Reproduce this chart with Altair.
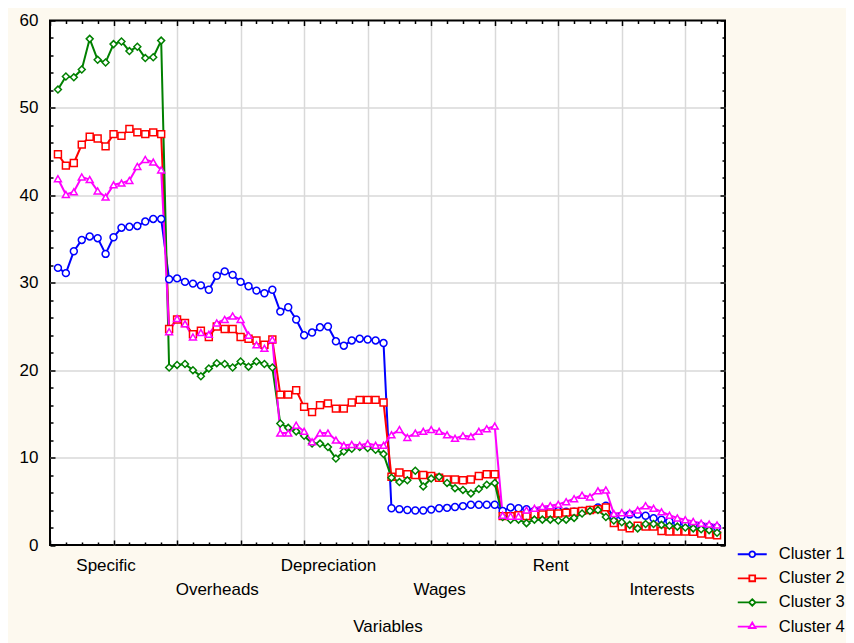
import altair as alt
import pandas as pd

FONT = "Liberation Sans"

variables = ["Specific", "Overheads", "Depreciation", "Wages", "Rent", "Interests"]
clusters = ["Cluster 1", "Cluster 2", "Cluster 3", "Cluster 4"]
colors = ["#0000FF", "#FF0000", "#008000", "#FF00FF"]
shapes = ["circle", "square", "diamond", "triangle-up"]
points_per_variable = 14

cluster1 = [
    31.7, 31.1, 33.6, 34.9, 35.3, 35.1, 33.3, 35.2, 36.3, 36.4, 36.5, 37.0, 37.3, 37.3,
    30.4, 30.5, 30.1, 29.9, 29.7, 29.2, 30.8, 31.3, 30.9, 30.1, 29.6, 29.1, 28.8, 29.2,
    26.7, 27.2, 25.8, 24.0, 24.3, 24.9, 25.0, 23.3, 22.8, 23.4, 23.6, 23.5, 23.4, 23.1,
    4.2, 4.1, 4.0, 3.95, 3.95, 4.05, 4.2, 4.25, 4.35, 4.45, 4.6, 4.6, 4.6, 4.6,
    3.9, 4.3, 4.2, 4.1, 3.9, 4.0, 4.1, 3.9, 3.8, 3.8, 3.9, 4.0, 4.3, 4.5,
    3.2, 3.35, 3.5, 3.5, 3.35, 3.05, 2.9, 2.7, 2.5, 2.4, 2.3, 2.2, 2.1, 2.0,
]
cluster2 = [
    44.7, 43.4, 43.7, 45.8, 46.7, 46.5, 45.6, 47.0, 46.8, 47.6, 47.2, 47.0, 47.2, 47.0,
    24.7, 25.8, 25.4, 24.1, 24.5, 23.8, 25.0, 24.7, 24.7, 23.8, 23.6, 23.4, 22.9, 23.5,
    17.2, 17.2, 17.7, 15.8, 15.2, 16.0, 16.2, 15.6, 15.6, 16.3, 16.6, 16.6, 16.6, 16.3,
    7.8, 8.3, 8.1, 8.0, 8.0, 7.9, 7.7, 7.5, 7.5, 7.4, 7.5, 7.9, 8.1, 8.1,
    3.3, 3.3, 3.4, 3.3, 3.5, 3.5, 3.6, 3.6, 3.7, 3.8, 3.9, 4.0, 4.1, 4.3,
    2.5, 2.1, 1.9, 2.2, 2.1, 2.1, 1.6, 1.55, 1.55, 1.55, 1.5, 1.3, 1.2, 1.1,
]
cluster3 = [
    52.1, 53.6, 53.5, 54.4, 57.9, 55.5, 55.2, 57.3, 57.6, 56.5, 57.0, 55.7, 55.8, 57.7,
    20.3, 20.6, 20.7, 20.0, 19.3, 20.2, 20.8, 20.7, 20.3, 21.0, 20.4, 21.0, 20.7, 20.3,
    13.9, 13.4, 13.0, 12.5, 11.6, 11.6, 11.2, 9.9, 10.7, 11.0, 11.2, 11.1, 10.9, 10.4,
    7.7, 7.2, 7.4, 8.5, 6.7, 7.6, 7.8, 7.1, 6.5, 6.3, 5.9, 6.4, 6.9, 7.1,
    3.2, 2.9, 2.9, 2.5, 2.9, 2.9, 2.9, 2.8, 2.9, 3.1, 3.6, 3.9, 4.0, 3.2,
    2.8, 2.6, 2.3, 1.9, 2.4, 2.4, 2.3, 2.2, 2.1, 2.0, 1.9, 1.8, 1.7, 1.4,
]
cluster4 = [
    41.9, 40.1, 40.4, 42.1, 41.8, 40.5, 39.8, 41.2, 41.4, 41.7, 43.3, 44.1, 43.8, 42.9,
    24.4, 25.9, 25.3, 23.8, 24.3, 24.1, 25.4, 25.8, 26.2, 25.8, 24.0, 22.9, 22.5, 23.5,
    12.8, 12.8, 13.7, 13.0, 11.8, 12.8, 12.8, 12.0, 11.4, 11.5, 11.4, 11.6, 11.4, 11.4,
    12.6, 13.2, 12.3, 12.8, 13.0, 13.2, 13.0, 12.6, 12.2, 12.5, 12.4, 13.0, 13.3, 13.6,
    3.4, 3.3, 3.3, 4.0, 4.2, 4.4, 4.5, 4.65, 4.95, 5.3, 5.7, 5.5, 6.2, 6.3,
    3.6, 3.7, 3.7, 4.0, 4.5, 4.2, 3.8, 3.4, 3.1, 2.9, 2.7, 2.5, 2.4, 2.3,
]
series = [cluster1, cluster2, cluster3, cluster4]

rows = []
for name, vals in zip(clusters, series):
    for i, v in enumerate(vals):
        rows.append({"Cluster": name, "Case": i + 1, "Value": v,
                     "Variable": variables[i // points_per_variable]})
df = pd.DataFrame(rows)

n_cases = points_per_variable * len(variables)
label_pos = [points_per_variable * k + points_per_variable // 2 for k in range(len(variables))]
second_row = [p for k, p in enumerate(label_pos) if k % 2 == 1]

label_expr = "''"
for p, name in reversed(list(zip(label_pos, variables))):
    label_expr = f"datum.value === {p} ? '{name}' : ({label_expr})"

x_ticks = list(range(0, n_cases + 1, 2))
x_values = sorted(x_ticks + label_pos)
y_values = list(range(0, 61, 2))

x_scale = alt.Scale(domain=[0, n_cases + 1], nice=False, zero=False)
y_scale = alt.Scale(domain=[0, 60], nice=False)

TICK = 5
MINOR_DASH = [0, 2, 3]
SOLID = [TICK, 0]
GRID_COLOR = "#d9d9d9"

axis_x_bottom = alt.Axis(
    orient="bottom", values=x_values, labelExpr=label_expr,
    labelFont=FONT, labelFontSize=17, labelColor="black",
    labelBaseline="middle", labelAlign="center",
    labelPadding={"condition": {"test": f"indexof({second_row}, datum.value) >= 0", "value": 44}, "value": 20},
    labelOverlap=False, labelFlush=False, labelBound=False,
    domain=False, offset=-TICK, tickSize=TICK, tickColor="black", tickWidth=1.5,
    tickOpacity={"condition": {"test": "datum.value % 2 === 1", "value": 0}, "value": 1},
    tickDash={"condition": {"test": "datum.value % 8 !== 0", "value": MINOR_DASH}, "value": SOLID},
    grid=True, gridColor=GRID_COLOR, gridWidth=1.5,
    gridOpacity={"condition": {"test": f"datum.value % 8 === 0 && datum.value > 0 && datum.value < {n_cases}", "value": 1}, "value": 0},
    title="Variables", titleFont=FONT, titleFontSize=17, titleFontWeight="normal",
    titleColor="black", titleBaseline="middle", titleY=86,
)
axis_y_left = alt.Axis(
    orient="left", values=y_values,
    labelExpr="datum.value % 10 === 0 ? datum.label : ''",
    labelFont=FONT, labelFontSize=17, labelColor="black", labelPadding=12,
    labelOverlap=False, labelFlush=False,
    domain=False, offset=-TICK, tickSize=TICK, tickColor="black", tickWidth=1.5,
    tickDash={"condition": {"test": "datum.value % 10 !== 0", "value": MINOR_DASH}, "value": SOLID},
    grid=True, gridColor=GRID_COLOR, gridWidth=1.5,
    gridOpacity={"condition": {"test": "datum.value % 10 === 0 && datum.value > 0 && datum.value < 60", "value": 1}, "value": 0},
    title=None,
)
axis_x_top = alt.Axis(
    orient="top", values=x_ticks, labels=False, domain=False, grid=False,
    offset=-TICK, tickSize=TICK, tickColor="black", tickWidth=1.5,
    tickDash={"condition": {"test": "datum.value % 8 !== 0", "value": MINOR_DASH}, "value": SOLID},
    title=None,
)
axis_y_right = alt.Axis(
    orient="right", values=y_values, labels=False, domain=False, grid=False,
    offset=-TICK, tickSize=TICK, tickColor="black", tickWidth=1.5,
    tickDash={"condition": {"test": "datum.value % 10 !== 0", "value": MINOR_DASH}, "value": SOLID},
    title=None,
)

# legend glyphs: a short line with the cluster's marker in the middle
legend_glyphs = [
    "M-2,0H-0.4M0.4,0H2M-0.4,0A0.4,0.4,0,1,0,0.4,0A0.4,0.4,0,1,0,-0.4,0Z",
    "M-2,0H-0.4M0.4,0H2M-0.4,-0.4H0.4V0.4H-0.4Z",
    "M-2,0H-0.4M0.4,0H2M0,-0.45L0.45,0L0,0.45L-0.45,0Z",
    "M-2,0H-0.33M0.33,0H2M0,-0.55L0.45,0.2H-0.45Z",
]

legend = alt.Legend(
    orient="none", legendX=686.5, legendY=525.25, title=None,
    labelFont=FONT, labelFontSize=16.5, labelColor="black", labelOffset=18,
    symbolSize=210, symbolStrokeWidth=1.8, symbolFillColor="white", symbolOpacity=1,
    symbolOffset=7.25, rowPadding=7.1, padding=0,
)

base = alt.Chart(df)

lines = base.mark_line(strokeWidth=2, strokeJoin="round").encode(
    x=alt.X("Case:Q", scale=x_scale, axis=axis_x_bottom),
    y=alt.Y("Value:Q", scale=y_scale, axis=axis_y_left),
    color=alt.Color("Cluster:N", scale=alt.Scale(domain=clusters, range=colors), legend=None),
    order="Case:Q",
)

points = base.mark_point(filled=False, fill="white", size=48, strokeWidth=1.5, opacity=1).encode(
    x=alt.X("Case:Q", scale=x_scale, axis=axis_x_top),
    y=alt.Y("Value:Q", scale=y_scale, axis=axis_y_right),
    color=alt.Color("Cluster:N", scale=alt.Scale(domain=clusters, range=colors), legend=None),
    shape=alt.Shape("Cluster:N", scale=alt.Scale(domain=clusters, range=shapes), legend=None),
)

legend_layer = base.mark_point(filled=False, opacity=0).encode(
    x=alt.X("Case:Q", scale=x_scale, axis=None),
    y=alt.Y("Value:Q", scale=y_scale, axis=None),
    color=alt.Color("Cluster:N", scale=alt.Scale(domain=clusters, range=colors), legend=legend),
    shape=alt.Shape("Cluster:N", scale=alt.Scale(domain=clusters, range=legend_glyphs), legend=legend),
)

chart = (
    alt.layer(lines, points, legend_layer)
    .resolve_axis(x="independent", y="independent")
    .resolve_scale(color="independent", shape="independent")
    .properties(
        width=675, height=524.5,
        autosize=alt.AutoSizeParams(type="none"),
        padding={"left": 42, "top": 12.5, "right": 121, "bottom": 98},
        background="#FDF9EF",
    )
    .configure(font=FONT)
    .configure_view(fill="white", stroke="black", strokeWidth=2)
)

chart.save("out.html", embed_options={"renderer": "svg", "actions": False})
